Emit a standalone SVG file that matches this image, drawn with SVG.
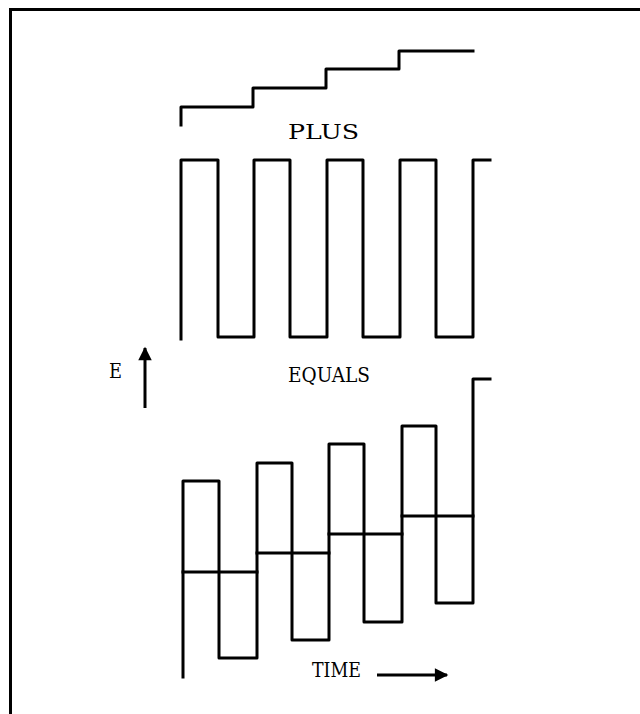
<svg xmlns="http://www.w3.org/2000/svg" width="640" height="714" viewBox="0 0 640 714">
  <style>
    .wave { fill: none; stroke: #000; stroke-width: 3; stroke-linejoin: round; stroke-linecap: square; }
    .frame { fill: none; stroke: #000; stroke-width: 3; }
    .label { font-family: "DejaVu Serif", "Liberation Serif", serif; font-size: 20px; fill: #000; }
    .axis { stroke: #000; stroke-width: 3; fill: none; }
  </style>
  <defs>
    <marker id="head" viewBox="0 0 10 10" refX="9" refY="5" markerWidth="6" markerHeight="4.5" orient="auto" markerUnits="strokeWidth">
      <path d="M0,0 L10,5 L0,10 Z" fill="#000"/>
    </marker>
  </defs>
  <rect width="640" height="714" fill="#fff"/>

  <!-- frame: top and left rules -->
  <path class="frame" d="M10.5,714 V9.5 H640"/>

  <!-- rising staircase -->
  <g id="staircase">
    <path class="wave" d="M181,125 V107 H253 V88 H326 V69 H399 V51 H473"/>
  </g>
  <g id="label-plus">
    <text class="label" x="288" y="139" textLength="71" lengthAdjust="spacingAndGlyphs">PLUS</text>
  </g>

  <!-- square wave -->
  <g id="square-wave">
    <path class="wave" d="M181,339 V160 H218 V337 H254 V160 H290 V337 H327 V160 H363 V337 H400 V160 H436 V337 H473 V160 H490"/>
  </g>

  <!-- voltage axis -->
  <g id="axis-e">
    <text class="label" x="109" y="378" textLength="13" lengthAdjust="spacingAndGlyphs">E</text>
  </g>
  <g id="label-equals">
    <text class="label" x="288" y="382" textLength="82" lengthAdjust="spacingAndGlyphs">EQUALS</text>
  </g>

  <!-- resulting sum: square wave riding on the staircase -->
  <g id="sum-wave">
    <path class="wave" d="M183,677 V481 H219 V658 H257 V463 H292 V640 H329 V444 H364 V622 H402 V426 H436 V603 H473 V379 H490"/>
    <path class="wave" d="M183,572 H257 M257,553 H329 M329,534 H402 M402,516 H473"/>
  </g>

  <g id="axis-time">
    <text class="label" x="312" y="677" textLength="49" lengthAdjust="spacingAndGlyphs">TIME</text>
  </g>

  <g id="connectors">
    <line class="axis" x1="145" y1="408" x2="145" y2="348" marker-end="url(#head)"/>
    <line class="axis" x1="377" y1="675" x2="447" y2="675" marker-end="url(#head)"/>
  </g>
</svg>
